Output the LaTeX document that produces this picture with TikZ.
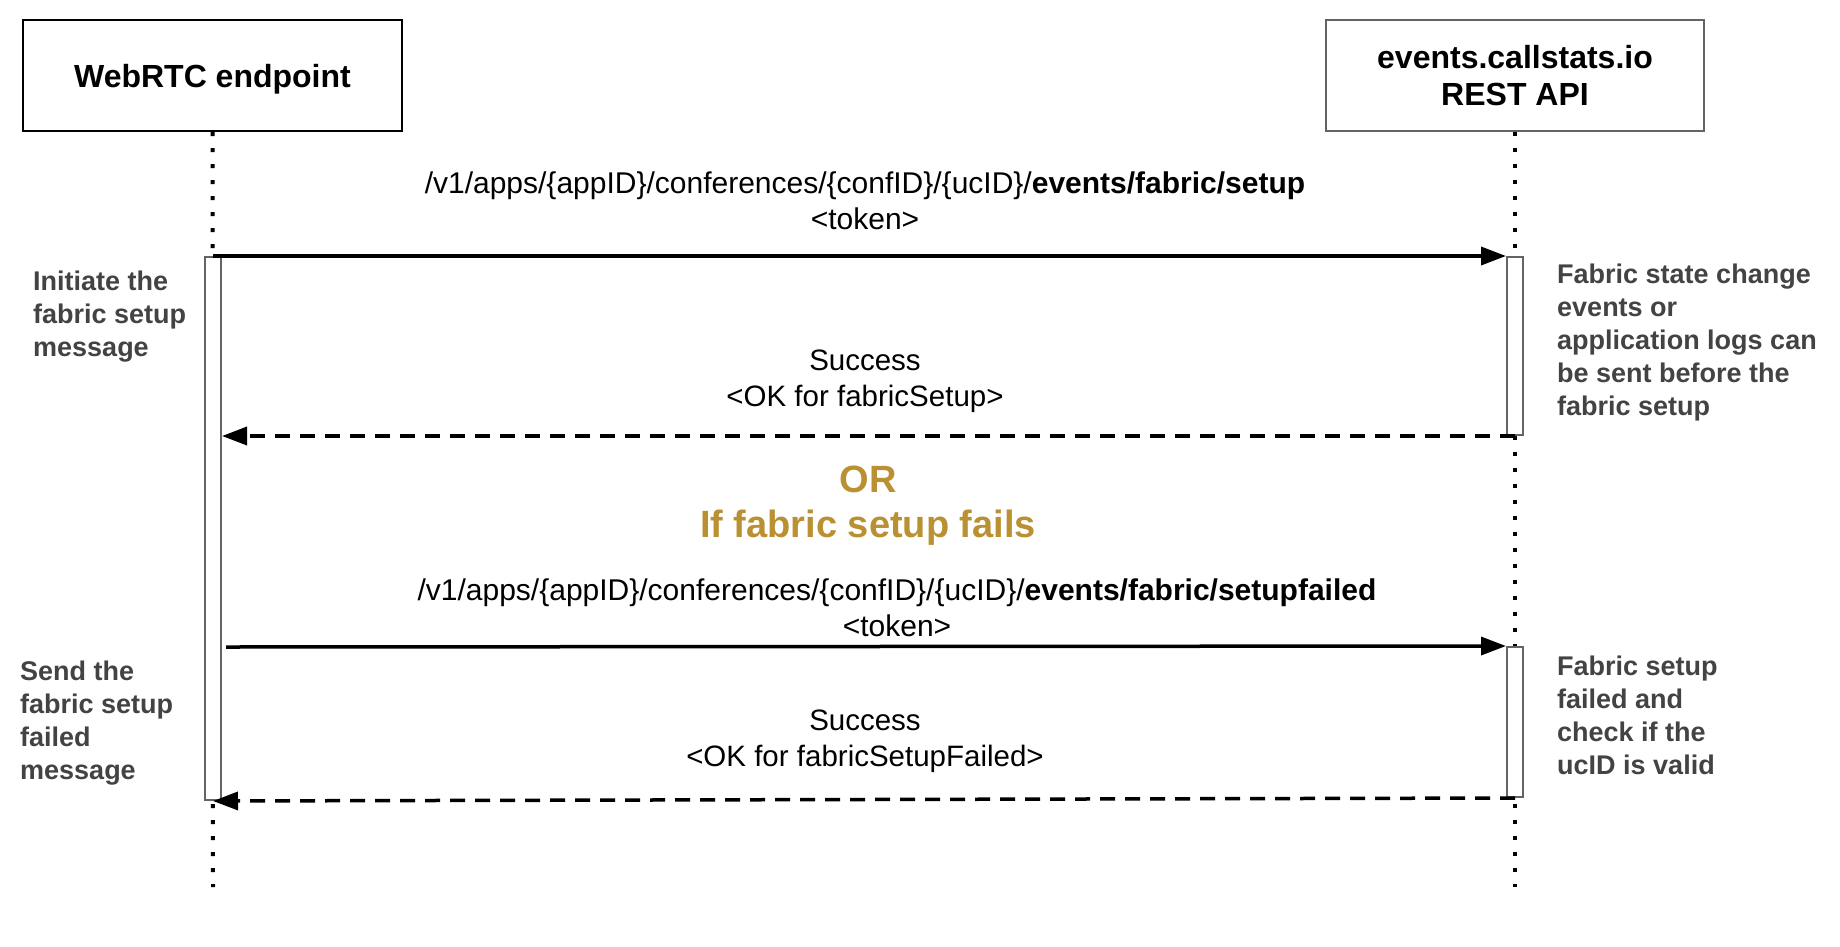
\documentclass[tikz,border=0pt]{standalone}
\usepackage{fontspec}
\setmainfont{Liberation Sans}
\usetikzlibrary{arrows.meta}
\definecolor{notegray}{RGB}{67,67,67}
\definecolor{orgold}{RGB}{185,145,50}
\definecolor{bargray}{RGB}{100,100,100}
\begin{document}
\begin{tikzpicture}[x=1pt,y=-1pt,
 actor/.style={draw, line width=2pt, minimum width=379pt, minimum height=111pt, inner sep=0pt, font=\fontsize{32}{37.5}\selectfont\bfseries, align=center},
 actbar/.style={draw=bargray, line width=2pt, fill=white, minimum width=16pt, inner sep=0pt},
 lifeline/.style={line width=4pt, dash pattern=on 4pt off 12pt},
 msg/.style={line width=3.5pt, -{Triangle[length=25pt,width=18pt]}},
 reply/.style={msg, dash pattern=on 15pt off 10pt},
 msgtext/.style={font=\fontsize{29.5}{36}\selectfont, align=center, inner sep=0pt, anchor=base},
 urltext/.style={msgtext, font=\fontsize{30}{36}\selectfont},
 note/.style={font=\fontsize{27}{33}\selectfont\bfseries, text=notegray, align=left, inner sep=0pt, anchor=base west},
 ortext/.style={font=\fontsize{38}{45}\selectfont\bfseries, text=orgold, align=center, inner sep=0pt, anchor=base}
]
\useasboundingbox[fill=white] (0,0) rectangle (1840,946);

% actors
\node[actor, text depth=0pt] (A) at (212.5,75.5) {WebRTC endpoint};
\node[actor, draw=bargray, minimum width=378pt] (B) at (1515,75.5) {events.callstats.io\\REST API};

% lifeline ends
\coordinate (Aend) at (213,887);
\coordinate (Bend) at (1515,887);
\draw[lifeline] (A.south) -- (Aend);
\draw[lifeline] (B.south) -- (Bend);

% activation bars
\node[actbar, minimum height=543pt] (la) at (213,528.5) {};
\node[actbar, minimum height=178pt] (ra1) at (1515,346) {};
\node[actbar, minimum height=150pt] (ra2) at (1515,722) {};

% messages
\draw[msg] (la.north) -- (ra1.north west);
\draw[reply] (ra1.south) -- (la.east |- ra1.south);
\coordinate (s3) at (226,647);
\draw[msg] (s3) -- (ra2.north west);
\draw[reply] (ra2.south) -- (la.south);

% message labels (anchor = baseline of the last line)
\node[urltext] (m1) at (865,229) {/v1/apps/\{appID\}/conferences/\{confID\}/\{ucID\}/\textbf{events/fabric/setup}\\<token>};
\node[msgtext] (m2) at (865,406) {Success\\<OK for fabricSetup>};
\node[ortext] (or) at (868,537) {OR\\If fabric setup fails};
\node[urltext] (m3) at (897,636) {/v1/apps/\{appID\}/conferences/\{confID\}/\{ucID\}/\textbf{events/fabric/setupfailed}\\<token>};
\node[msgtext] (m4) at (865,766) {Success\\<OK for fabricSetupFailed>};

% notes
\node[note] (n1) at (33,356) {Initiate the\\fabric setup\\message};
\node[note] (n2) at (20,779) {Send the\\fabric setup\\failed\\message};
\node[note] (n3) at (1557,415) {Fabric state change\\events or\\application logs can\\be sent before the\\fabric setup};
\node[note] (n4) at (1557,774) {Fabric setup\\failed and\\check if the\\ucID is valid};
\end{tikzpicture}
\end{document}
